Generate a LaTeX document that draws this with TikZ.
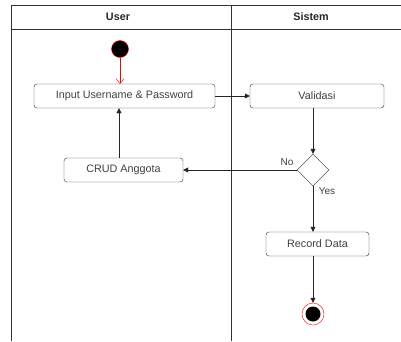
\documentclass[tikz,border=0pt]{standalone}
\usepackage{fontspec}
\setmainfont{Liberation Sans}
\usetikzlibrary{shapes.geometric,arrows.meta}
\begin{document}
\begin{tikzpicture}[x=1pt,y=-1pt,
  act/.style={draw=black!80,rounded corners=3pt,minimum height=24pt,inner sep=0pt,font=\fontsize{10.8}{12}\selectfont,text=black!75},
  flow/.style={draw=black!85,-{Triangle[length=5pt,width=5pt]}},
  lbl/.style={font=\fontsize{10}{12}\selectfont,text=black!75,inner sep=0pt},
  hdr/.style={font=\bfseries\fontsize{10.8}{12}\selectfont,text=black!85}]
\useasboundingbox (0,0) rectangle (401,341);
% swimlanes
\draw[black!80] (11,341) -- (11,5) -- (401,5);
\draw[black!80] (11,29) -- (401,29);
\draw[black!80] (231,5) -- (231,341);
\node[hdr] (hu) at (118,17) {User};
\node[hdr] (hs) at (311,17) {Sistem};
% nodes
\node[circle,fill=black,draw=red,minimum size=17pt,inner sep=0pt] (start) at (120,49) {};
\node[act,minimum width=181pt] (input) at (124.5,96) {Input Username \& Password};
\node[act,minimum width=134pt] (valid) at (317,96) {Validasi};
\node[draw=black!85,diamond,minimum width=32pt,minimum height=32pt,inner sep=0pt] (dec) at (313,170) {};
\node[act,minimum width=119pt] (crud) at (123.5,170) {CRUD Anggota};
\node[act,minimum width=103pt] (rec) at (317.5,244) {Record Data};
\node[circle,draw=red,minimum size=22pt,inner sep=0pt] (end) at (313,314) {};
\node[circle,fill=black,minimum size=15pt,inner sep=0pt] (endin) at (313,314) {};
% connectors
\draw[red,-{Straight Barb[length=5pt,width=8pt]}] (start) -- (120,84);
\draw[flow] (input.east) -- (valid.west);
\draw[flow] (valid.south -| dec.north) -- (dec.north);
\draw[flow] (dec.west) -- (crud.east);
\draw[flow] (crud.north -| 119,0) -- (input.south -| 119,0);
\draw[flow] (dec.south) -- (rec.north -| dec.south);
\draw[flow] (rec.south -| end.north) -- (end.north);
\node[lbl] (no) at (287,162) {No};
\node[lbl] (yes) at (327,191) {Yes};
\end{tikzpicture}
\end{document}
